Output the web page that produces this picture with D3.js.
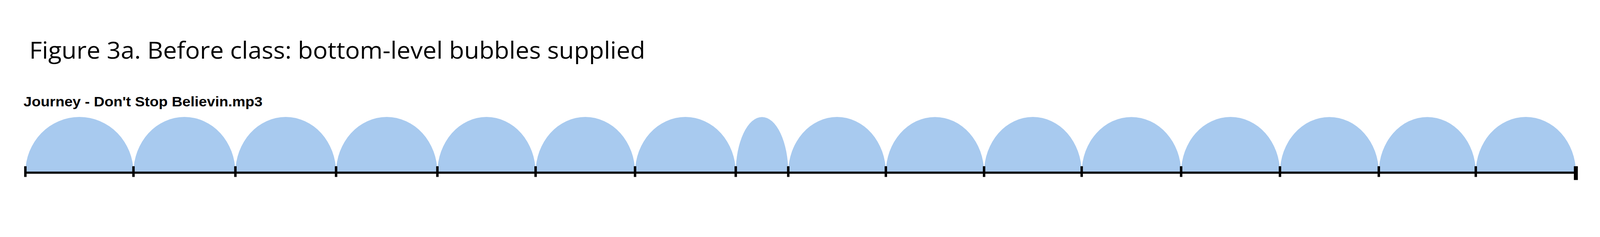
<!DOCTYPE html>
<html>
<head>
<meta charset="utf-8">
<script src="https://cdn.jsdelivr.net/npm/d3@7"></script>
<style>
html, body { margin: 0; padding: 0; background: #fff; overflow: hidden; }
svg { display: block; width: 100vw; height: 100vh; }
</style>
</head>
<body>
<div id="chart"></div>
<script>
// segment boundaries (seconds) and bubble heights
var boundaries = [0, 17.5, 34.0, 50.3, 66.7, 82.6, 98.7, 115.0, 123.5, 139.3, 155.2, 171.0, 187.1, 203.1, 219.1, 234.8, 251];
var heights = [1, 1, 1, 1, 1, 1, 1, 1, 1, 1, 1, 1, 1, 1, 1, 1];
var title = 'Figure 3a. Before class: bottom-level bubbles supplied';
var songName = "Journey - Don't Stop Believin.mp3";

var W = 5235, H = 606;
var svg = d3.select('#chart').append('svg')
    .attr('viewBox', '0 0 ' + W + ' ' + H)
    .attr('preserveAspectRatio', 'xMidYMid meet');

var x = d3.scaleLinear().domain([0, 251]).range([83, 5156]);
var y = d3.scaleLinear().domain([0, 1]).range([480, 298]);

var bubbles = heights.map((h, i) => ({ x0: boundaries[i], x1: boundaries[i + 1], h: h }));

svg.selectAll('.bubble')
    .data(bubbles)
    .enter()
    .append('path')
    .attr('class', 'bubble')
    .attr('fill', '#a8caef')
    .attr('d', d => {
        var a = x(d.x0), b = x(d.x1);
        var rx = (b - a) / 2, ry = y(0) - y(d.h);
        return 'M' + a + ',' + y(0) + ' A' + rx + ',' + ry + ' 0 0 1 ' + b + ',' + y(0) + ' Z';
    });

// axis line
svg.append('line')
    .attr('x1', x(0)).attr('x2', x(251))
    .attr('y1', y(0)).attr('y2', y(0))
    .attr('stroke', '#000').attr('stroke-width', 7);

svg.selectAll('.tick')
    .data(boundaries)
    .enter()
    .append('line')
    .attr('class', 'tick')
    .attr('x1', d => x(d)).attr('x2', d => x(d))
    .attr('y1', 459)
    .attr('y2', (d, i) => i === boundaries.length - 1 ? 504 : 494)
    .attr('stroke', '#000')
    .attr('stroke-width', (d, i) => i === boundaries.length - 1 ? 13 : 8);

svg.append('text')
    .attr('x', 96)
    .attr('y', 108)
    .attr('textLength', 2015)
    .attr('lengthAdjust', 'spacingAndGlyphs')
    .style('font-family', 'Open Sans, sans-serif')
    .style('font-size', '76px')
    .text(title);

svg.append('text')
    .attr('x', 77)
    .attr('y', 264)
    .attr('textLength', 782)
    .attr('lengthAdjust', 'spacingAndGlyphs')
    .style('font-family', 'Liberation Sans Narrow, Liberation Sans, sans-serif')
    .style('font-weight', 'bold')
    .style('font-size', '46px')
    .text(songName);
</script>
</body>
</html>
